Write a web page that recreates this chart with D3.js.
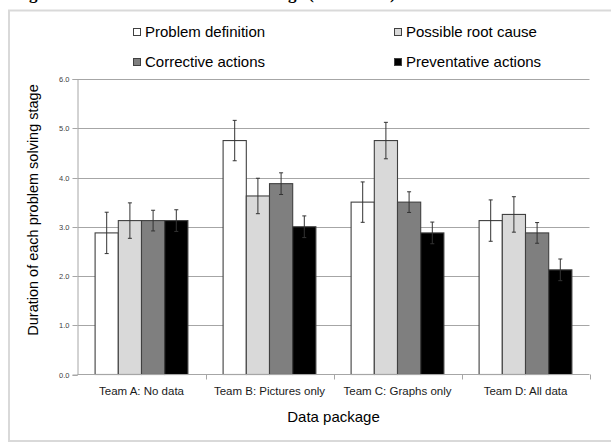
<!DOCTYPE html>
<html>
<head>
<meta charset="utf-8">
<script src="https://cdn.jsdelivr.net/npm/d3@7/dist/d3.min.js"></script>
<style>
  html, body { margin: 0; padding: 0; background: #fff; }
  svg { display: block; }
</style>
</head>
<body>
<svg id="chart" width="611" height="443"></svg>
<script>
// Teams (x categories) and problem-solving stages (series)
const teams = ["Team A: No data", "Team B: Pictures only", "Team C: Graphs only", "Team D: All data"];
const stages = ["Problem definition", "Possible root cause", "Corrective actions", "Preventative actions"];

// Mean duration of each stage, per team
const problemDefinition   = [2.875, 4.75, 3.5, 3.125];
const possibleRootCause   = [3.125, 3.625, 4.75, 3.25];
const correctiveActions   = [3.125, 3.875, 3.5, 2.875];
const preventativeActions = [3.125, 3.0, 2.875, 2.125];

// Error bar half-widths, per team
const problemDefinitionErr   = [0.42, 0.41, 0.41, 0.42];
const possibleRootCauseErr   = [0.36, 0.36, 0.37, 0.36];
const correctiveActionsErr   = [0.21, 0.22, 0.21, 0.21];
const preventativeActionsErr = [0.22, 0.22, 0.22, 0.22];

const yTicks = [0, 1, 2, 3, 4, 5, 6];
const stageColors = ["#ffffff", "#d9d9d9", "#7f7f7f", "#000000"];

const seriesValues = [problemDefinition, possibleRootCause, correctiveActions, preventativeActions];
const seriesErrors = [problemDefinitionErr, possibleRootCauseErr, correctiveActionsErr, preventativeActionsErr];

const rows = teams.map((t, i) => ({
  team: t,
  bars: stages.map((s, j) => ({ stage: s, value: seriesValues[j][i], err: seriesErrors[j][i], color: stageColors[j] }))
}));

const svg = d3.select("#chart");

// Figure caption above the chart frame (only the lowest strokes fall inside the page)
svg.append("text")
  .attr("x", 14)
  .attr("y", -1)
  .attr("font-family", "Liberation Serif, Times New Roman, serif")
  .attr("font-weight", "bold")
  .attr("font-size", 17)
  .attr("fill", "#000")
  .text("Figure 5: Mean time taken in each stage (in minutes)");

// Chart frame
svg.append("rect")
  .attr("x", 9).attr("y", 10.5)
  .attr("width", 640).attr("height", 430.5)
  .attr("fill", "#fff")
  .attr("stroke", "#d9d9d9")
  .attr("stroke-width", 2);

const plotLeft = 77.5, plotRight = 589.5, plotTop = 79, plotBottom = 374.5;

const y = d3.scaleLinear().domain([0, 6]).range([plotBottom, plotTop]);
const x0 = d3.scaleBand().domain(teams).range([plotLeft, plotRight]).padding(0);
const inner = 17.6;
const x1 = d3.scaleBand().domain(stages).range([inner, x0.bandwidth() - inner]).padding(0);

// Gridlines
svg.append("g")
  .selectAll("line")
  .data(yTicks.filter(d => d > 0))
  .join("line")
  .attr("x1", plotLeft).attr("x2", plotRight)
  .attr("y1", d => Math.round(y(d)) + 0.5)
  .attr("y2", d => Math.round(y(d)) + 0.5)
  .attr("stroke", "#a6a6a6")
  .attr("stroke-width", 1);

// Y axis
const yAxis = svg.append("g")
  .attr("transform", `translate(${plotLeft},0)`)
  .call(d3.axisLeft(y).tickValues(yTicks).tickFormat(d3.format(".1f")).tickSize(5).tickPadding(3));
yAxis.select(".domain").attr("stroke", "#a6a6a6");
yAxis.selectAll(".tick line").attr("stroke", "#a6a6a6");
yAxis.selectAll(".tick").attr("transform", d => `translate(0,${Math.round(y(d)) + 0.5})`);
yAxis.selectAll(".tick text")
  .attr("font-family", "Liberation Sans, Arial, sans-serif")
  .attr("font-size", 7.5)
  .attr("fill", "#404040");

// Bars
const groups = svg.append("g")
  .selectAll("g")
  .data(rows)
  .join("g")
  .attr("transform", d => `translate(${x0(d.team)},0)`);

groups.selectAll("rect")
  .data(d => d.bars)
  .join("rect")
  .attr("x", d => x1(d.stage))
  .attr("y", d => y(d.value))
  .attr("width", x1.bandwidth())
  .attr("height", d => y(0) - y(d.value))
  .attr("fill", d => d.color)
  .attr("stroke", "#404040")
  .attr("stroke-width", 1.1);

// Error bars
const eb = groups.selectAll("g.err")
  .data(d => d.bars)
  .join("g")
  .attr("class", "err")
  .attr("stroke", "#333")
  .attr("stroke-width", 1);
const cx = d => x1(d.stage) + x1.bandwidth() / 2;
eb.append("line")
  .attr("x1", cx).attr("x2", cx)
  .attr("y1", d => y(d.value + d.err))
  .attr("y2", d => y(d.value - d.err));
eb.append("line")
  .attr("x1", d => cx(d) - 2).attr("x2", d => cx(d) + 2)
  .attr("y1", d => y(d.value + d.err)).attr("y2", d => y(d.value + d.err));
eb.append("line")
  .attr("x1", d => cx(d) - 2).attr("x2", d => cx(d) + 2)
  .attr("y1", d => y(d.value - d.err)).attr("y2", d => y(d.value - d.err));

// X axis: baseline, category boundary ticks, labels
svg.append("line")
  .attr("x1", plotLeft).attr("x2", plotRight)
  .attr("y1", plotBottom).attr("y2", plotBottom)
  .attr("stroke", "#a6a6a6");
svg.append("g")
  .selectAll("line")
  .data(teams)
  .join("line")
  .attr("x1", d => Math.round(x0(d) + x0.bandwidth()) + 0.5)
  .attr("x2", d => Math.round(x0(d) + x0.bandwidth()) + 0.5)
  .attr("y1", plotBottom).attr("y2", plotBottom + 5)
  .attr("stroke", "#a6a6a6");

const xAxis = svg.append("g")
  .attr("transform", `translate(0,${plotBottom})`)
  .call(d3.axisBottom(x0).tickSize(0).tickPadding(12));
xAxis.select(".domain").remove();
xAxis.selectAll(".tick text")
  .attr("font-family", "Liberation Sans, Arial, sans-serif")
  .attr("font-size", 11.5)
  .attr("fill", "#1a1a1a");

// Axis titles
svg.append("text")
  .attr("x", (plotLeft + plotRight) / 2)
  .attr("y", 422)
  .attr("text-anchor", "middle")
  .attr("font-family", "Liberation Sans, Arial, sans-serif")
  .attr("font-size", 15)
  .attr("fill", "#000")
  .text("Data package");

svg.append("text")
  .attr("transform", "translate(38,210) rotate(-90)")
  .attr("text-anchor", "middle")
  .attr("font-family", "Liberation Sans, Arial, sans-serif")
  .attr("font-size", 14.5)
  .attr("fill", "#000")
  .text("Duration of each problem solving stage");

// Legend
const legendPos = [[133, 32], [394, 32], [133, 62], [394, 62]];
const legend = svg.append("g")
  .selectAll("g")
  .data(stages)
  .join("g")
  .attr("transform", (d, i) => `translate(${legendPos[i][0]},${legendPos[i][1]})`);
legend.append("rect")
  .attr("x", 0.5).attr("y", -3.5)
  .attr("width", 7).attr("height", 7)
  .attr("fill", (d, i) => stageColors[i])
  .attr("stroke", "#404040")
  .attr("stroke-width", 1);
legend.append("text")
  .attr("x", 12)
  .attr("y", 0)
  .attr("dy", "0.35em")
  .attr("font-family", "Liberation Sans, Arial, sans-serif")
  .attr("font-size", 15)
  .attr("fill", "#000")
  .text(d => d);
</script>
</body>
</html>
